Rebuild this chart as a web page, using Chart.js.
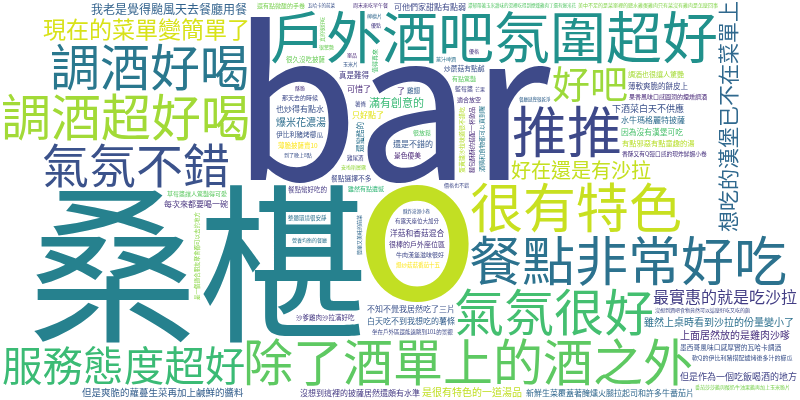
<!DOCTYPE html>
<html>
<head>
<meta charset="utf-8">
<script src="https://cdn.jsdelivr.net/npm/chart.js@4.4.1/dist/chart.umd.min.js"></script>
<style>
  html, body { margin: 0; padding: 0; background: #fff; }
  #wrap { width: 800px; height: 400px; }
</style>
</head>
<body>
<div id="wrap"><canvas id="cloud"></canvas></div>
<script>
const WORDS = [
  "bar", "o", "桑椹", "戶外酒吧氛圍超好", "推推", "很有特色", "餐點非常好吃",
  "除了酒單上的酒之外", "調酒超好喝", "調酒好喝", "氣氛很好", "氣氛不錯", "服務態度超好",
  "好吧", "想吃的漢堡已不在菜單上", "現在的菜單變簡單了", "好在還是有沙拉",
  "最實惠的就是吃沙拉", "我老是覺得颱風天去餐廳用餐", "雖然上桌時看到沙拉的份量變小了",
  "滿有創意的", "上面居然放的是雞肉沙嗲", "但是爽脆的蘿蔓生菜再加上鹹鮮的醬料",
  "是很有特色的一道湯品", "爆米花濃湯", "但是作為一個吃飯喝酒的地方", "下酒菜白天不供應",
  "可他們家甜點有點弱", "不知不覺我居然吃了三片", "沒想到這裡的披薩居然還頗有水準",
  "每次來都要喝一碗", "水牛瑪格麗特披薩", "也炒得有點水", "白天吃不到我想吃的薯條",
  "新鮮生菜覆蓋著醃燻火腿拉起司和許多牛番茄片", "還是不錯的", "只好點了", "可惜了", "了",
  "洋菇和香菇混合", "因為沒有漢堡可吃", "濃郁帶著玉米甜味的湯裡吃得到煙燻雞肉丁還有爆米花",
  "薄軟爽脆的餅皮上", "真是難得", "還蠻酷的", "有點邪惡有點童趣的湯", "很棒的戶外座位區",
  "調酒也很讓人驚艷", "景色優美", "炒蘑菇有點鹹", "餐點選擇不多", "伊比利豬烤櫛瓜",
  "墨西哥風味口感厚實的瓦哈卡調酒", "很久沒吃披薩", "薄脆披薩賣10", "沙爹雞肉沙拉滿好吃",
  "雞翅", "餐點蠻好吃的", "那天去的時候", "還有點微酸的手卷", "有點驚豔", "牛肉漢堡滋味很好",
  "雖然有點遺憾", "果香風味口感圓潤的煙燻調酒",
  "美中不足的是菜單裡的鹽水雞蛋雞肉只有菜沒有雞肉是怎麼回事", "草莓醬讓人驚豔得可愛",
  "軟Q的伊比利豬搭配爐烤後多汁的櫛瓜", "沒想到酒吧食物竟然可以這麼好吃又吃的飽", "很放鬆",
  "藍莓醬", "適合放空", "值得再來", "蛋黃醬沙拉味道很不錯吃", "麵包酥酥的搭配一杯飲品",
  "酒精和食物都可以買到喔", "香酥又有Q彈口感的現炸鮮蝦小卷", "有露天座位大加分",
  "爆炒菇菇番茄十五", "整體環境很安靜", "坐在戶外區還能遠眺到101的景觀",
  "是一個適合朋友聚會都可以去的地方", "薯條", "雞尾酒", "番茄莎莎醬與酸奶牛油果醬再加上玉米脆片",
  "周末來吃早午餐", "安啦斯層露", "價格也不錯", "到了晚上8點", "薑汁啤酒", "玉米片", "很驚艷",
  "營養均衡的餐廳", "芒果", "優點", "優格", "單品", "真的很好吃", "簡單又美味的前菜",
  "餐廳感覺很乾淨", "酥炸澎湖小卷", "瓦哈卡的前菜", "酥脆", "檸檬片"
];
const WEIGHTS = [
  41, 41, 34, 11.2, 11, 10.6, 10.6,
  10, 10, 10, 10, 9.4, 8.8,
  7.6, 4.8, 4.6, 4.4,
  3.2, 3, 2.4,
  2.2, 2.2, 2.1,
  2, 2, 2, 1.8,
  1.6, 1.6, 1.6,
  1.6, 1.6, 1.6, 1.6,
  1.6, 1.6, 1.6, 1.6, 1.6,
  1.55, 1.55, 1.5,
  1.5, 1.5, 1.5, 1.45, 1.4,
  1.4, 1.35, 1.35, 1.35, 1.35,
  1.35, 1.3, 1.3, 1.3,
  1.3, 1.3, 1.2, 1.2, 1.2, 1.2,
  1.2, 1.2,
  1.2, 1.2,
  1.2, 1.2, 1.2,
  1.2, 1.2, 1.2, 1.2, 1.2,
  1.2, 1.15, 1.1,
  1.1, 1.1, 1.1,
  1.1, 1.1, 1.1, 1,
  1, 1, 1, 1, 1, 1, 1,
  1, 1, 1, 1, 1, 1, 1,
  0.9, 0.9, 0.9, 1, 1
];

// styling
const WORD_COLORS = [
  "#3e4a89", "#c2df23", "#26818e", "#21918c", "#3e4989", "#c8e020", "#2c728e",
  "#5ec962", "#a2da37", "#2a788e", "#44bf70", "#3b528b", "#3bbb75",
  "#9dd93b", "#30698e", "#d8e219", "#c5e021",
  "#433e85", "#33638d", "#2d708e",
  "#3aba76", "#472f7d", "#355f8d",
  "#c0df25", "#2e6e8e", "#414487", "#3b528b",
  "#3e4989", "#3b528b", "#443983",
  "#46327e", "#2f6c8e", "#3b528b", "#355f8d",
  "#31688e", "#38598c", "#e2e418", "#482878", "#482878",
  "#453781", "#4ac16d", "#56c667",
  "#3e4a89", "#443a83", "#2c728e", "#b8de29", "#46337e",
  "#a5db36", "#482475", "#3b528b", "#3e4989", "#3b528b",
  "#3b528b", "#6ccd5a", "#fde725", "#453882",
  "#355f8d", "#443983", "#3e4989", "#7ad151", "#5ec962", "#3f4889",
  "#35b779", "#482878",
  "#84d44b", "#5ec962",
  "#3b528b", "#3e4989", "#52c569",
  "#414487", "#46327e", "#4ac16d", "#b5de2b", "#482878",
  "#2a788e", "#46307e", "#414487",
  "#fde725", "#2c728e", "#3e4989",
  "#8bd646", "#3e4989", "#404688", "#7ad151",
  "#472c7a", "#95d840", "#3e4989", "#3b528b", "#2c728e", "#38588c", "#6ece58",
  "#2c728e", "#414487", "#443983", "#46327e", "#482475", "#6ece58", "#31688e",
  "#33638d", "#39568c", "#3b528b", "#46337e", "#31688e"
];
// words set vertically (reading bottom to top)
const ROTATED = [
  "想吃的漢堡已不在菜單上", "還蠻酷的", "值得再來", "蛋黃醬沙拉味道很不錯吃",
  "麵包酥酥的搭配一杯飲品", "酒精和食物都可以買到喔", "是一個適合朋友聚會都可以去的地方",
  "真的很好吃", "簡單又美味的前菜"
];

const W = 800, H = 400;
const FAMILY = '"Noto Sans CJK TC", "Noto Sans CJK SC", sans-serif';
const PX_PER_WEIGHT = 5;
const MARGIN = 2;
const MIN_PX = 4;
// the spiral starts a quarter of the way down, centred across
const ORIGIN_X = W / 2, ORIGIN_Y = H / 4;
const SPIRAL_ASPECT = 1.2;

function measureWord(ctx, word, px) {
  ctx.font = `${px}px ${FAMILY}`;
  const m = ctx.measureText(word);
  return {
    left: m.actualBoundingBoxLeft,
    asc: m.actualBoundingBoxAscent,
    w: Math.ceil(m.actualBoundingBoxLeft + m.actualBoundingBoxRight),
    h: Math.ceil(m.actualBoundingBoxAscent + m.actualBoundingBoxDescent),
  };
}

function paintWord(ctx, p, x, y) {
  ctx.save();
  ctx.translate(x, y);
  if (p.rot) ctx.rotate(-Math.PI / 2);
  ctx.font = `${p.px}px ${FAMILY}`;
  ctx.textAlign = "left";
  ctx.textBaseline = "alphabetic";
  ctx.fillText(p.word, -p.m.w / 2 + p.m.left, -p.m.h / 2 + p.m.asc);
  ctx.restore();
}

// greedy spiral placement, biggest word first, pixel based collision
function layoutCloud() {
  const cvs = document.createElement("canvas");
  cvs.width = W; cvs.height = H;
  const ctx = cvs.getContext("2d", { willReadFrequently: true });
  ctx.fillStyle = "#000";
  const filled = new Uint8Array(W * H);
  const sat = new Int32Array((W + 1) * (H + 1));

  const rebuild = () => {
    for (let y = 0; y < H; y++) {
      let row = 0;
      for (let x = 0; x < W; x++) {
        row += filled[y * W + x];
        sat[(y + 1) * (W + 1) + x + 1] = sat[y * (W + 1) + x + 1] + row;
      }
    }
  };
  const busy = (x, y, w, h) =>
    sat[(y + h) * (W + 1) + x + w] - sat[y * (W + 1) + x + w] -
    sat[(y + h) * (W + 1) + x] + sat[y * (W + 1) + x];

  const findSpot = (bw, bh) => {
    if (bw > W || bh > H) return null;
    let a = 0;
    while (true) {
      const r = a / (2 * Math.PI);
      if (r > 450) return null;
      const x = Math.round(ORIGIN_X - SPIRAL_ASPECT * r * Math.cos(a) - bw / 2);
      const y = Math.round(ORIGIN_Y - r * Math.sin(a) - bh / 2);
      if (x >= 0 && y >= 0 && x + bw <= W && y + bh <= H && busy(x, y, bw, bh) === 0) {
        return { x, y };
      }
      a += 0.5 / Math.max(r, 0.5);
    }
  };

  const order = WORDS.map((_, i) => i).sort((a, b) => WEIGHTS[b] - WEIGHTS[a]);
  const placed = [];
  for (const i of order) {
    const rot = ROTATED.includes(WORDS[i]);
    let px = WEIGHTS[i] * PX_PER_WEIGHT;
    while (px >= MIN_PX) {
      const m = measureWord(ctx, WORDS[i], px);
      const bw = (rot ? m.h : m.w) + 2 * MARGIN;
      const bh = (rot ? m.w : m.h) + 2 * MARGIN;
      const spot = findSpot(bw, bh);
      if (spot) {
        const p = { word: WORDS[i], px, rot, m, color: WORD_COLORS[i],
                    x: spot.x + bw / 2, y: spot.y + bh / 2 };
        paintWord(ctx, p, p.x, p.y);
        const img = ctx.getImageData(spot.x, spot.y, bw, bh).data;
        for (let yy = 0; yy < bh; yy++) {
          for (let xx = 0; xx < bw; xx++) {
            if (img[(yy * bw + xx) * 4 + 3] > 0) filled[(spot.y + yy) * W + spot.x + xx] = 1;
          }
        }
        rebuild();
        placed.push(p);
        break;
      }
      px -= Math.max(1, px * 0.04);
    }
  }
  return placed;
}

const placed = layoutCloud();

const wordPlugin = {
  id: "wordText",
  afterDatasetsDraw(chart) {
    const ctx = chart.ctx;
    chart.getDatasetMeta(0).data.forEach((pt, j) => {
      const p = placed[j];
      ctx.fillStyle = p.color;
      paintWord(ctx, p, pt.x, pt.y);
    });
  },
};

new Chart(document.getElementById("cloud"), {
  type: "scatter",
  data: {
    datasets: [{
      data: placed.map((p) => ({ x: p.x, y: p.y })),
      pointRadius: 0,
      pointHoverRadius: 0,
    }],
  },
  options: {
    responsive: true,
    maintainAspectRatio: false,
    animation: false,
    events: [],
    layout: { padding: 0, autoPadding: false },
    plugins: { legend: { display: false }, tooltip: { enabled: false } },
    scales: {
      x: { type: "linear", min: 0, max: W, display: false },
      y: { type: "linear", min: 0, max: H, reverse: true, display: false },
    },
  },
  plugins: [wordPlugin],
});
</script>
</body>
</html>
